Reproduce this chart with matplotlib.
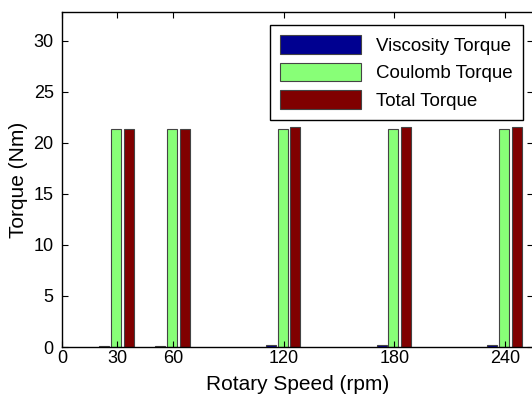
import matplotlib
matplotlib.use("Agg")
import matplotlib.pyplot as plt
import numpy as np

plt.rcParams['font.family'] = ['Liberation Sans', 'DejaVu Sans']

speeds = [30, 60, 120, 180, 240]
viscosity = [0.12, 0.13, 0.15, 0.17, 0.19]
coulomb = [21.3, 21.3, 21.3, 21.3, 21.3]
total = [21.33, 21.36, 21.5, 21.52, 21.54]

series = ["Viscosity Torque", "Coulomb Torque", "Total Torque"]
colors = ["#000090", "#88ff77", "#800000"]

fig = plt.figure(figsize=(5.32, 4.08), dpi=100)
W, H = 532, 408
ax = fig.add_axes([62 / W, (H - 347) / H, (533 - 62) / W, (347 - 12) / H])

x = np.array(speeds, dtype=float)
offsets = [-7.0, -0.6, 6.4]
width = 5.4
for vals, off, c, name in zip([viscosity, coulomb, total], offsets, colors, series):
    ax.bar(x + off, vals, width=width, color=c, edgecolor="#444444",
           linewidth=0.8, label=name)

ax.set_xlim(0, 255)
ax.set_ylim(0, 32.8)
ax.set_xticks([0, 30, 60, 120, 180, 240])
ax.set_yticks([0, 5, 10, 15, 20, 25, 30])
ax.tick_params(direction="in", top=True, right=True, length=4, labelsize=13)
ax.tick_params(axis="x", pad=2)
ax.tick_params(axis="y", pad=6)
for s in ax.spines.values():
    s.set_linewidth(1.0)

ax.set_xlabel("Rotary Speed (rpm)", fontsize=15, labelpad=6)
ax.set_ylabel("Torque (Nm)", fontsize=15, labelpad=4)

leg = ax.legend(loc="upper right", bbox_to_anchor=(523 / W, 1 - 25 / H),
                bbox_transform=fig.transFigure, fontsize=13.5,
                handlelength=4.3, handleheight=1.15, handletextpad=0.8,
                labelspacing=0.42, borderpad=0.55, fancybox=False,
                framealpha=1, edgecolor="black", borderaxespad=0)
leg.get_frame().set_linewidth(1.0)

fig.savefig("out.png", dpi=100)
